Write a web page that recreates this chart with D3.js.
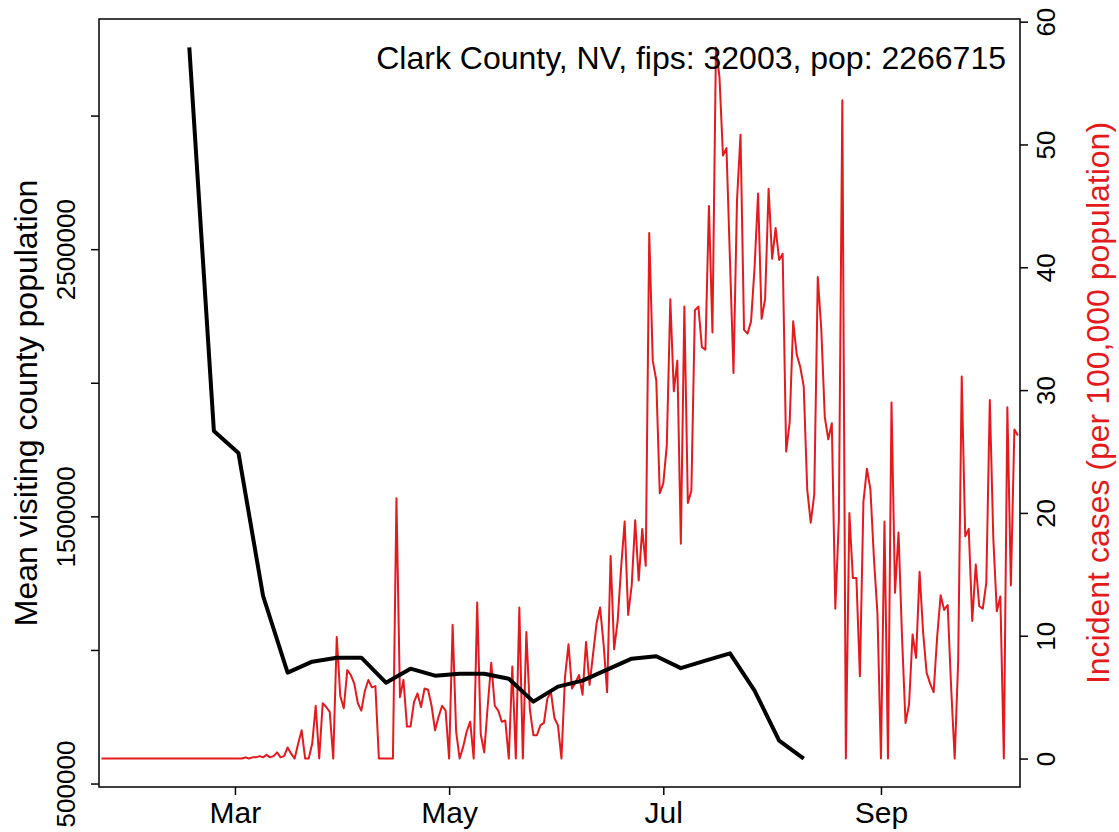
<!DOCTYPE html>
<html>
<head>
<meta charset="utf-8">
<script src="https://cdn.jsdelivr.net/npm/d3@7"></script>
<style>
  html, body { margin: 0; padding: 0; background: #fff; }
  svg { display: block; }
  text { font-family: "Liberation Sans", Arial, Helvetica, sans-serif; }
</style>
</head>
<body>
<script>
// ---------------- data ----------------
const titleText = "Clark County, NV, fips: 32003, pop: 2266715";
const leftLabel = "Mean visiting county population";
const rightLabel = "Incident cases (per 100,000 population)";

// weekly mean visiting county population, starting 2020-02-17
const visitStart = new Date(2020, 1, 17);
const visitValues = [3255000, 1819600, 1737400, 1202800, 914900, 956100, 971000, 971000,
  877600, 929900, 903700, 911200, 911200, 892500, 806500, 862600, 885000, 926200,
  967300, 976600, 931800, 959800, 987100, 847700, 660700, 593500];

// daily incident cases per 100,000, starting 2020-01-23
const caseStart = new Date(2020, 0, 23);
const caseValues = [
  0,0,0,0,0,0,0,0,0,0, 0,0,0,0,0,0,0,0,0,0, 0,0,0,0,0,0,0,0,0,0, 0,0,0,0,0,0,0,0,
  0,0,0, 0.1,0,0.1,0.1,0.2,0.1,0.3,0.1,0.2,0.5,0.1,0.2,0.9,0.4,0,1.2,2.3,0,0,
  1.2,4.3,0,4.5,4.2,3.8,0,9.9,5.1,4.1,7.2,6.8,6.1,4.5,3.9,5.5,6.4,5.8,5.9,0,
  0,0,0,0,21.2,5.0,6.4,2.6,2.6,4.6,5.3,4.2,5.7,5.6,4.3,2.3,3.4,4.3,3.9,0,
  10.9,2.2,0,0.95,2.2,3.0,0,12.7,2.0,0.5,4.3,7.8,4.3,3.9,3.0,3.1,0,7.5,0,12.3,
  0,10.3,4.0,1.9,1.9,2.7,2.9,4.9,5.4,3.3,2.7,0,6.6,9.3,5.7,6.2,6.8,5.2,9.5,6.0,
  8.5,11.0,12.3,9.3,5.4,16.5,8.9,11.2,15.6,19.3,11.7,14.1,19.4,14.5,18.7,15.7,42.8,32.4,30.8,21.6,
  22.4,25.5,37.4,29.9,32.4,17.5,36.8,20.8,21.8,36.5,36.8,33.5,33.3,45.0,34.7,57.9,55.5,49.1,49.7,40.5,
  31.4,45.5,50.8,34.9,34.6,35.6,40.0,46.0,35.8,37.4,46.4,40.7,43.2,40.6,41.1,25.0,27.4,35.6,32.9,31.9,
  30.3,21.9,19.2,21.5,39.2,35.0,27.8,26.0,27.3,12.2,19.4,53.6,0,20.0,14.7,14.7,6.7,20.9,23.6,21.9,
  16.3,11.8,0,19.3,0,29.0,13.5,18.4,9.9,2.9,4.4,10.1,8.2,15.2,10.3,7.0,6.1,5.4,9.9,13.3,
  12.1,12.5,5.7,0,8.0,31.1,18.1,18.7,11.2,15.8,12.4,12.2,14.3,29.2,17.9,12.0,13.2,0,28.6,14.1,
  26.8,26.3
];

const xTickDates = [new Date(2020, 2, 1), new Date(2020, 4, 1), new Date(2020, 6, 1), new Date(2020, 8, 1)];
const xTickLabels = ["Mar", "May", "Jul", "Sep"];
const leftTicks = [500000, 1000000, 1500000, 2000000, 2500000, 3000000];
const leftTickLabels = ["500000", "", "1500000", "", "2500000", ""];
const rightTicks = [0, 10, 20, 30, 40, 50, 60];

// ---------------- build ----------------
const DAY = 86400000;
const visits = visitValues.map((v, i) => ({ date: new Date(visitStart.getTime() + i * 7 * DAY), value: v }));
const cases = caseValues.map((v, i) => ({ date: new Date(caseStart.getTime() + i * DAY), value: v }));

const W = 1119, H = 832;
const plot = { left: 99, right: 1020, top: 19, bottom: 787 };
const RED = "#E41A1C";

const svg = d3.select("body").append("svg").attr("width", W).attr("height", H);

const caseExt = d3.extent(cases, d => d.date);
const x = d3.scaleTime()
  .domain([new Date(caseExt[0].getTime() - 0.72 * DAY), new Date(caseExt[1].getTime() + 0.6 * DAY)])
  .range([plot.left, plot.right]);

function padded(ext) { const r = ext[1] - ext[0]; return [ext[0] - 0.04 * r, ext[1] + 0.04 * r]; }
const yL = d3.scaleLinear().domain(padded(d3.extent(visitValues))).range([plot.bottom, plot.top]);
const yR = d3.scaleLinear().domain(padded(d3.extent(caseValues))).range([plot.bottom, plot.top]);

// red cases line
svg.append("path")
  .datum(cases)
  .attr("fill", "none")
  .attr("stroke", RED)
  .attr("stroke-width", 2)
  .attr("stroke-linejoin", "round")
  .attr("d", d3.line().x(d => x(d.date)).y(d => yR(d.value)));

// black visits line
svg.append("path")
  .datum(visits)
  .attr("fill", "none")
  .attr("stroke", "#000")
  .attr("stroke-width", 4)
  .attr("stroke-linejoin", "round")
  .attr("d", d3.line().x(d => x(d.date)).y(d => yL(d.value)));

// box
svg.append("rect")
  .attr("x", plot.left).attr("y", plot.top)
  .attr("width", plot.right - plot.left).attr("height", plot.bottom - plot.top)
  .attr("fill", "none").attr("stroke", "#000").attr("stroke-width", 1.5);

const FS = 26;

// bottom axis
const xAxis = d3.axisBottom(x).tickValues(xTickDates)
  .tickFormat((d, i) => xTickLabels[i]).tickSize(8).tickSizeOuter(0);
const gx = svg.append("g").attr("transform", `translate(0,${plot.bottom})`).call(xAxis);
gx.select(".domain").remove();
gx.selectAll(".tick line").attr("stroke", "#000").attr("stroke-width", 1.5);
gx.selectAll(".tick text").attr("font-size", 30).attr("fill", "#000").attr("dy", null).attr("y", 36);

// left axis
const lAxis = d3.axisLeft(yL).tickValues(leftTicks)
  .tickFormat((d, i) => leftTickLabels[i]).tickSize(8).tickSizeOuter(0);
const gl = svg.append("g").attr("transform", `translate(${plot.left},0)`).call(lAxis);
gl.select(".domain").remove();
gl.selectAll(".tick line").attr("stroke", "#000").attr("stroke-width", 1.5);
gl.selectAll(".tick text")
  .attr("font-size", FS).attr("fill", "#000")
  .attr("x", null).attr("dy", null)
  .attr("text-anchor", "middle")
  .attr("transform", "translate(-24,0) rotate(-90)");

// right axis
const rAxis = d3.axisRight(yR).tickValues(rightTicks).tickSize(8).tickSizeOuter(0);
const gr = svg.append("g").attr("transform", `translate(${plot.right},0)`).call(rAxis);
gr.select(".domain").remove();
gr.selectAll(".tick line").attr("stroke", "#000").attr("stroke-width", 1.5);
gr.selectAll(".tick text")
  .attr("font-size", FS).attr("fill", "#000")
  .attr("x", null).attr("dy", null)
  .attr("text-anchor", "middle")
  .attr("transform", "translate(35,0) rotate(-90)");

// axis titles
svg.append("text")
  .attr("transform", `translate(37,${(plot.top + plot.bottom) / 2}) rotate(-90)`)
  .attr("text-anchor", "middle").attr("font-size", 32).attr("fill", "#000")
  .text(leftLabel);
svg.append("text")
  .attr("transform", `translate(1109,${(plot.top + plot.bottom) / 2}) rotate(-90)`)
  .attr("text-anchor", "middle").attr("font-size", 32).attr("fill", RED)
  .text(rightLabel);

// title / legend text
svg.append("text")
  .attr("x", 1006).attr("y", 69)
  .attr("text-anchor", "end").attr("font-size", 32).attr("fill", "#000")
  .text(titleText);
</script>
</body>
</html>
